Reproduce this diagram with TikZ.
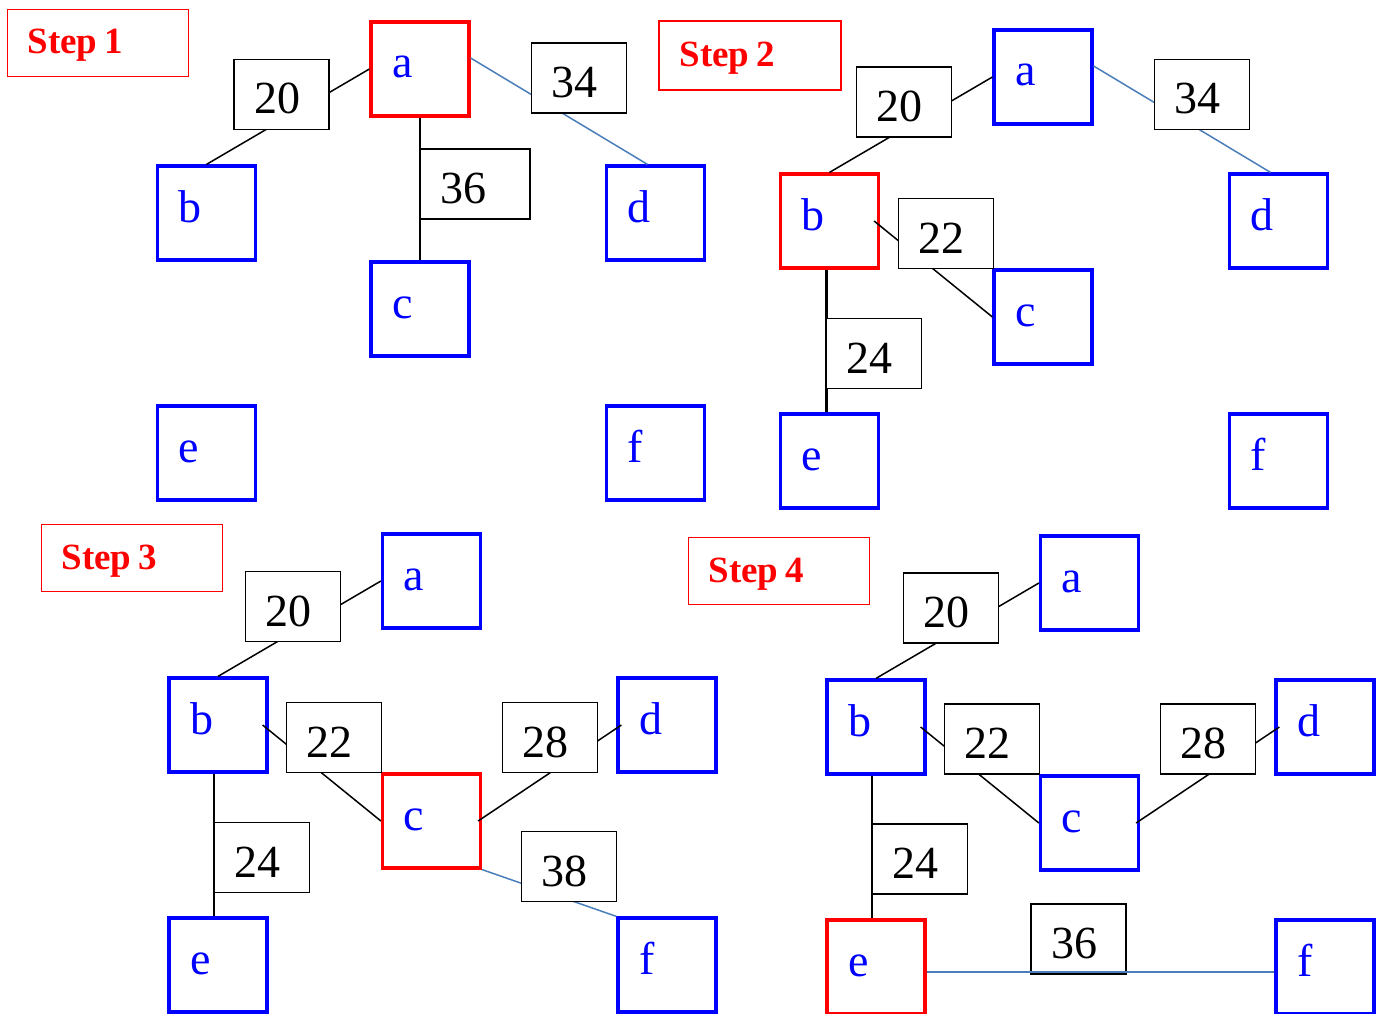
\documentclass[tikz,border=0pt]{standalone}
\usepackage{fontspec}
\setmainfont{Liberation Serif}
\definecolor{lnblue}{RGB}{74,126,187}
\begin{document}
\begin{tikzpicture}[x=1pt,y=-1pt,
  vbox/.style={draw=blue, line width=3.2pt, minimum width=98pt, minimum height=94pt, inner sep=0pt,
    text width=56pt, align=left, text height=18pt, text depth=0pt,
    font=\fontsize{46}{50}\selectfont, text=blue},
  cur/.style={vbox, draw=red},
  wbox/.style={draw=black, line width=1.5pt, fill=white, minimum width=95pt, minimum height=70pt, inner sep=0pt,
    text width=55pt, align=left, text height=39pt, text depth=0pt,
    font=\fontsize{46}{50}\selectfont},
  stepbox/.style={draw=red, line width=1.2pt, minimum width=181pt, minimum height=67pt, inner sep=0pt,
    text width=141pt, align=left, text height=22pt, text depth=0pt, text=red,
    font=\fontsize{37}{40}\selectfont\bfseries},
  edge/.style={draw=black, line width=1.5pt},
  bedge/.style={draw=lnblue, line width=1.5pt}]
\useasboundingbox (0,0) rectangle (1381,1014);

% ---------------- Step 1 ----------------
\node[stepbox] (s1) at (98,43) {Step\hspace{0.2em}1};
\node[cur]  (a1) at (420,69) {a};
\node[vbox] (b1) at (206.5,213) {b};
\node[vbox] (c1) at (420,309) {c};
\node[vbox] (d1) at (655.5,213) {d};
\node[vbox] (e1) at (206.5,453) {e};
\node[vbox] (f1) at (655.5,453) {f};
\draw[edge] (b1.north) -- (a1.west);
\draw[bedge] ([yshift=11pt]a1.east) -- ([xshift=-8pt]d1.north);
\draw[edge] (a1.south) -- (c1.north);
\node[wbox] (w1ab) at (281.5,94.5) {20};
\node[wbox] (w1ad) at (579,78) {34};
\node[wbox, minimum width=110pt, text width=70pt] (w1ac) at (475,184) {36};

% ---------------- Step 2 ----------------
\node[stepbox, minimum width=182pt, minimum height=69pt] (s2) at (750,55.5) {Step\hspace{0.2em}2};
\node[vbox] (a2) at (1043,77) {a};
\node[cur]  (b2) at (829.5,221) {b};
\node[vbox] (c2) at (1043,317) {c};
\node[vbox] (d2) at (1278.5,221) {d};
\node[vbox] (e2) at (829.5,461) {e};
\node[vbox] (f2) at (1278.5,461) {f};
\draw[edge] (b2.north) -- (a2.west);
\draw[bedge] ([yshift=11pt]a2.east) -- ([xshift=-8pt]d2.north);
\draw[edge] ([xshift=-6pt]b2.east) -- (c2.west);
\draw[edge, line width=2.5pt] ([xshift=-3pt]b2.south) -- ([xshift=-3pt]e2.north);
\node[wbox] (w2ab) at (904,102) {20};
\node[wbox] (w2ad) at (1202,94.5) {34};
\node[wbox] (w2bc) at (946,233.5) {22};
\node[wbox] (w2be) at (874,353.5) {24};

% ---------------- Step 3 ----------------
\node[stepbox] (s3) at (132,558) {Step\hspace{0.2em}3};
\node[vbox] (a3) at (431.5,581) {a};
\node[vbox] (b3) at (218,725) {b};
\node[cur]  (c3) at (431.5,821) {c};
\node[vbox] (d3) at (667,725) {d};
\node[vbox] (e3) at (218,965) {e};
\node[vbox] (f3) at (667,965) {f};
\draw[edge] (b3.north) -- (a3.west);
\draw[edge] ([xshift=-6pt]b3.east) -- (c3.west);
\draw[edge] ([xshift=-4pt]b3.south) -- ([xshift=-4pt]e3.north);
\draw[edge] ([xshift=-4pt]c3.east) -- ([xshift=5pt]d3.west);
\draw[bedge] (c3.south east) -- (f3.north west);
\node[wbox] (w3ab) at (293,606.5) {20};
\node[wbox] (w3bc) at (334,737.5) {22};
\node[wbox] (w3be) at (262,857.5) {24};
\node[wbox] (w3cd) at (550,737.5) {28};
\node[wbox] (w3cf) at (569,866.5) {38};

% ---------------- Step 4 ----------------
\node[stepbox] (s4) at (779,571) {Step\hspace{0.2em}4};
\node[vbox] (a4) at (1089.5,583) {a};
\node[vbox] (b4) at (876,727) {b};
\node[vbox] (c4) at (1089.5,823) {c};
\node[vbox] (d4) at (1325,727) {d};
\node[cur]  (e4) at (876,967) {e};
\node[vbox] (f4) at (1325,967) {f};
\draw[edge] (b4.north) -- (a4.west);
\draw[edge] ([xshift=-6pt]b4.east) -- (c4.west);
\draw[edge] ([xshift=-4pt]b4.south) -- ([xshift=-4pt]e4.north);
\draw[edge] ([xshift=-4pt]c4.east) -- ([xshift=5pt]d4.west);
\node[wbox] (w4ab) at (951,608) {20};
\node[wbox] (w4bc) at (992,739) {22};
\node[wbox] (w4cd) at (1208,739) {28};
\node[wbox] (w4be) at (920,859) {24};
\node[wbox] (w4ef) at (1078.5,939) {36};
\draw[bedge, line width=2.7pt] ([yshift=-5pt]e4.east) -- ([yshift=-5pt]f4.west);
\end{tikzpicture}
\end{document}
